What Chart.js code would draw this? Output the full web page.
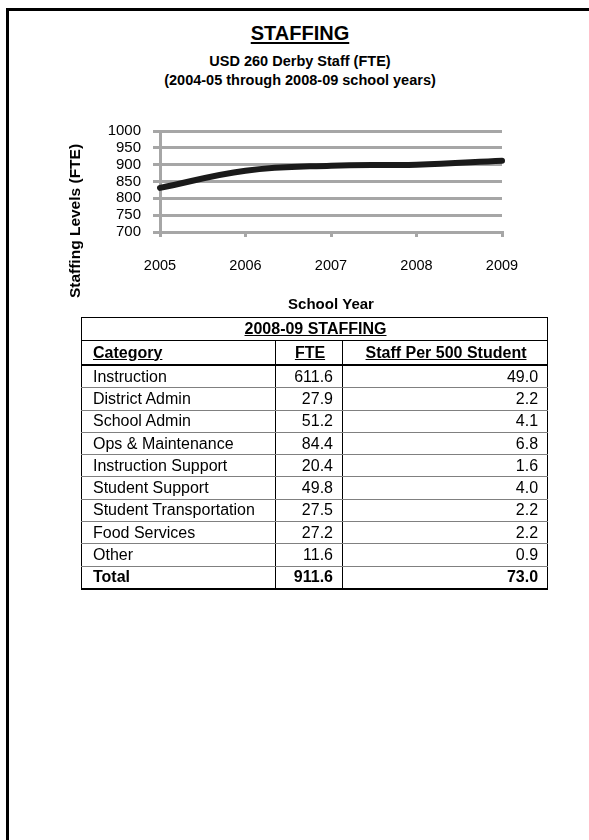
<!DOCTYPE html>
<html><head><meta charset="utf-8">
<script src="https://cdn.jsdelivr.net/npm/chart.js@4.4.0/dist/chart.umd.min.js"></script>
<style>
html,body{margin:0;padding:0;background:#fff;}
body{width:589px;height:840px;position:relative;overflow:hidden;font-family:"Liberation Sans",Arial,sans-serif;color:#000;}
#frame{position:absolute;left:6px;top:8px;width:700px;height:900px;border-left:3px solid #000;border-top:3px solid #000;}
.h{position:absolute;left:0;width:600px;text-align:center;font-weight:bold;}
#t1{top:21px;font-size:20px;line-height:25px;text-decoration:underline;text-decoration-thickness:2px;text-underline-offset:2px;}
#t2{top:52px;font-size:14.5px;line-height:19px;}
#cv{position:absolute;left:0;top:100px;}
#ytitle{position:absolute;left:-15px;top:212px;width:180px;height:18px;line-height:18px;text-align:center;font-weight:bold;font-size:15.5px;transform:rotate(-90deg);transform-origin:50% 50%;white-space:nowrap;}
table{position:absolute;left:81px;top:317px;width:466px;border-collapse:collapse;table-layout:fixed;font-size:16px;}
td{padding:0 9px 0 11px;height:21.3px;line-height:18px;border-left:1px solid #000;border-right:1px solid #000;border-bottom:1px solid #808080;white-space:nowrap;}
td.n{text-align:right;}
tr.title td{text-align:center;font-weight:bold;text-decoration:underline;height:22px;border:1px solid #000;}
tr.head td{font-weight:bold;text-decoration:underline;height:23px;border-bottom:2px solid #000;}
tr.head td.c{text-align:center;}
tr.total td{font-weight:bold;border-bottom:2px solid #000;}
</style>
</head><body>
<div id="frame"></div>
<div class="h" id="t1">STAFFING</div>
<div class="h" id="t2">USD 260 Derby Staff (FTE)<br>(2004-05 through 2008-09 school years)</div>
<canvas id="cv" width="589" height="240"></canvas>
<div id="ytitle">Staffing Levels (FTE)</div>
<table id="tbl"></table>
<script>
// ---- chart data ----
const years = ['2005', '2006', '2007', '2008', '2009'];
const staffFTE = [831, 882, 897, 900, 911.6];
const yTicks = [700, 750, 800, 850, 900, 950, 1000];

// ---- table data ----
const tableTitle = '2008-09 STAFFING';
const tableHeaders = ['Category', 'FTE', 'Staff Per 500 Student'];
const categories = ['Instruction', 'District Admin', 'School Admin', 'Ops & Maintenance', 'Instruction Support', 'Student Support', 'Student Transportation', 'Food Services', 'Other'];
const fteValues = ['611.6', '27.9', '51.2', '84.4', '20.4', '49.8', '27.5', '27.2', '11.6'];
const per500Values = ['49.0', '2.2', '4.1', '6.8', '1.6', '4.0', '2.2', '2.2', '0.9'];
const totalRow = ['Total', '911.6', '73.0'];

// build table
(function(){
  const t = document.getElementById('tbl');
  let h = '<colgroup><col style="width:194px"><col style="width:67px"><col style="width:205px"></colgroup>';
  h += '<tr class="title"><td colspan="3">' + tableTitle + '</td></tr>';
  h += '<tr class="head"><td>' + tableHeaders[0] + '</td><td class="c">' + tableHeaders[1] + '</td><td class="c">' + tableHeaders[2] + '</td></tr>';
  categories.forEach((c, i) => {
    h += '<tr><td>' + c.replace('&', '&amp;') + '</td><td class="n">' + fteValues[i] + '</td><td class="n">' + per500Values[i] + '</td></tr>';
  });
  h += '<tr class="total"><td>' + totalRow[0] + '</td><td class="n">' + totalRow[1] + '</td><td class="n">' + totalRow[2] + '</td></tr>';
  t.innerHTML = h;
})();

const FONT = '"Liberation Sans", Arial, sans-serif';
const GRID = '#a6a6a6';
new Chart(document.getElementById('cv'), {
  type: 'line',
  data: {
    labels: years,
    datasets: [{
      data: staffFTE,
      borderColor: '#1a1a1a',
      borderWidth: 6,
      borderCapStyle: 'round',
      tension: 0.4,
      pointRadius: 0,
      fill: false
    }]
  },
  options: {
    responsive: false,
    animation: false,
    events: [],
    layout: { padding: { top: 31, left: 0, right: 87, bottom: 0 } },
    plugins: { legend: { display: false }, tooltip: { enabled: false }, title: { display: false } },
    scales: {
      x: {
        offset: false,
        grid: { drawOnChartArea: false, drawTicks: true, tickLength: 5, color: GRID, lineWidth: 3 },
        border: { display: true, color: GRID, width: 3 },
        ticks: { color: '#000', font: { family: FONT, size: 14.5 }, padding: 20, maxRotation: 0 },
        title: { display: true, text: 'School Year', color: '#000', font: { family: FONT, size: 15, weight: 'bold' }, padding: { top: 0, bottom: 26 } },
        afterFit: s => { s.height = 108; }
      },
      y: {
        min: 700, max: 1000,
        afterBuildTicks: s => { s.ticks = yTicks.map(v => ({ value: v })); },
        grid: { color: GRID, lineWidth: 3, drawTicks: true, tickLength: 7, tickWidth: 3 },
        border: { display: true, color: GRID, width: 3 },
        ticks: { color: '#000', font: { family: FONT, size: 15 }, padding: 12, autoSkip: false, callback: v => String(v) },
        afterFit: s => { s.width = 160; }
      }
    }
  }
});
</script>
</body></html>
